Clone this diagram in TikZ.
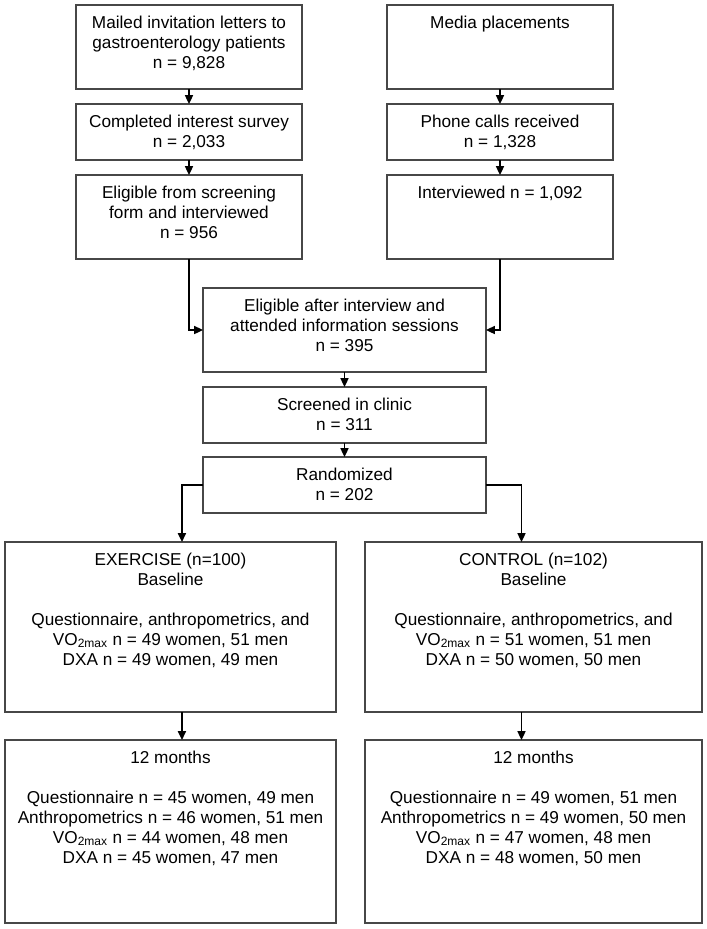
\documentclass[tikz,border=0pt]{standalone}
\usepackage{fontspec}
\setmainfont{Liberation Sans}
\usetikzlibrary{arrows.meta}
\newdimen\pxu
\pxu=0.75pt
\newcommand{\flowbox}[3]{\parbox[c][#2\pxu][t]{#1\pxu}{\centering\rule{0pt}{17.25pt}#3}}
\begin{document}
\begin{tikzpicture}[x=0.75pt,y=-0.75pt,
  box/.style={draw=black!72, line width=1.1pt, inner sep=0pt, outer sep=0pt, fill=white,
    font=\fontsize{12.9pt}{15pt}\selectfont},
  arr/.style={-{Triangle[length=6.6pt,width=6pt]}, line width=1.2pt, black}]
\useasboundingbox[fill=white] (0,0) rectangle (707,929);

\node[box] (A) at (189,47) {\flowbox{226}{84}{Mailed invitation letters to\\gastroenterology patients\\n = 9,828}};
\node[box] (B) at (500,47) {\flowbox{226}{84}{Media placements}};
\node[box] (C) at (189,132) {\flowbox{226}{56}{Completed interest survey\\n = 2,033}};
\node[box] (D) at (500,132) {\flowbox{226}{56}{Phone calls received\\n = 1,328}};
\node[box] (E) at (189,217) {\flowbox{226}{84}{Eligible from screening\\form and interviewed\\n = 956}};
\node[box] (F) at (500,217) {\flowbox{226}{84}{Interviewed n = 1,092}};
\node[box] (G) at (344.5,330) {\flowbox{283}{84}{Eligible after interview and\\attended information sessions\\n = 395}};
\node[box] (H) at (344.5,415) {\flowbox{283}{56}{Screened in clinic\\n = 311}};
\node[box] (I) at (344.5,485) {\flowbox{283}{56}{Randomized\\n = 202}};
\node[box] (J) at (170.5,627) {\flowbox{331}{170}{EXERCISE (n=100)\\Baseline\\[15pt]Questionnaire, anthropometrics, and\\VO\textsubscript{2max} n = 49 women, 51 men\\DXA n = 49 women, 49 men}};
\node[box] (K) at (533.5,627) {\flowbox{337}{170}{CONTROL (n=102)\\Baseline\\[15pt]Questionnaire, anthropometrics, and\\VO\textsubscript{2max} n = 51 women, 51 men\\DXA n = 50 women, 50 men}};
\node[box] (L) at (170.5,831.5) {\flowbox{331}{183}{12 months\\[15pt]Questionnaire n = 45 women, 49 men\\Anthropometrics n = 46 women, 51 men\\VO\textsubscript{2max} n = 44 women, 48 men\\DXA n = 45 women, 47 men}};
\node[box] (M) at (533.5,831.5) {\flowbox{337}{183}{12 months\\[15pt]Questionnaire n = 49 women, 51 men\\Anthropometrics n = 49 women, 50 men\\VO\textsubscript{2max} n = 47 women, 48 men\\DXA n = 48 women, 50 men}};

\draw[arr] (A) -- (C);
\draw[arr] (C) -- (E);
\draw[arr] (B) -- (D);
\draw[arr] (D) -- (F);
\draw[arr] (E.south) |- (G.west);
\draw[arr] (F.south) |- (G.east);
\draw[arr] (G) -- (H);
\draw[arr] (H) -- (I);
\draw[arr] (I.west) -| ([xshift=8.6pt]J.north);
\draw[arr] (I.east) -| ([xshift=-9pt]K.north);
\draw[arr] ([xshift=8.6pt]J.south) -- ([xshift=8.6pt]L.north);
\draw[arr] ([xshift=-9pt]K.south) -- ([xshift=-9pt]M.north);
\end{tikzpicture}
\end{document}
